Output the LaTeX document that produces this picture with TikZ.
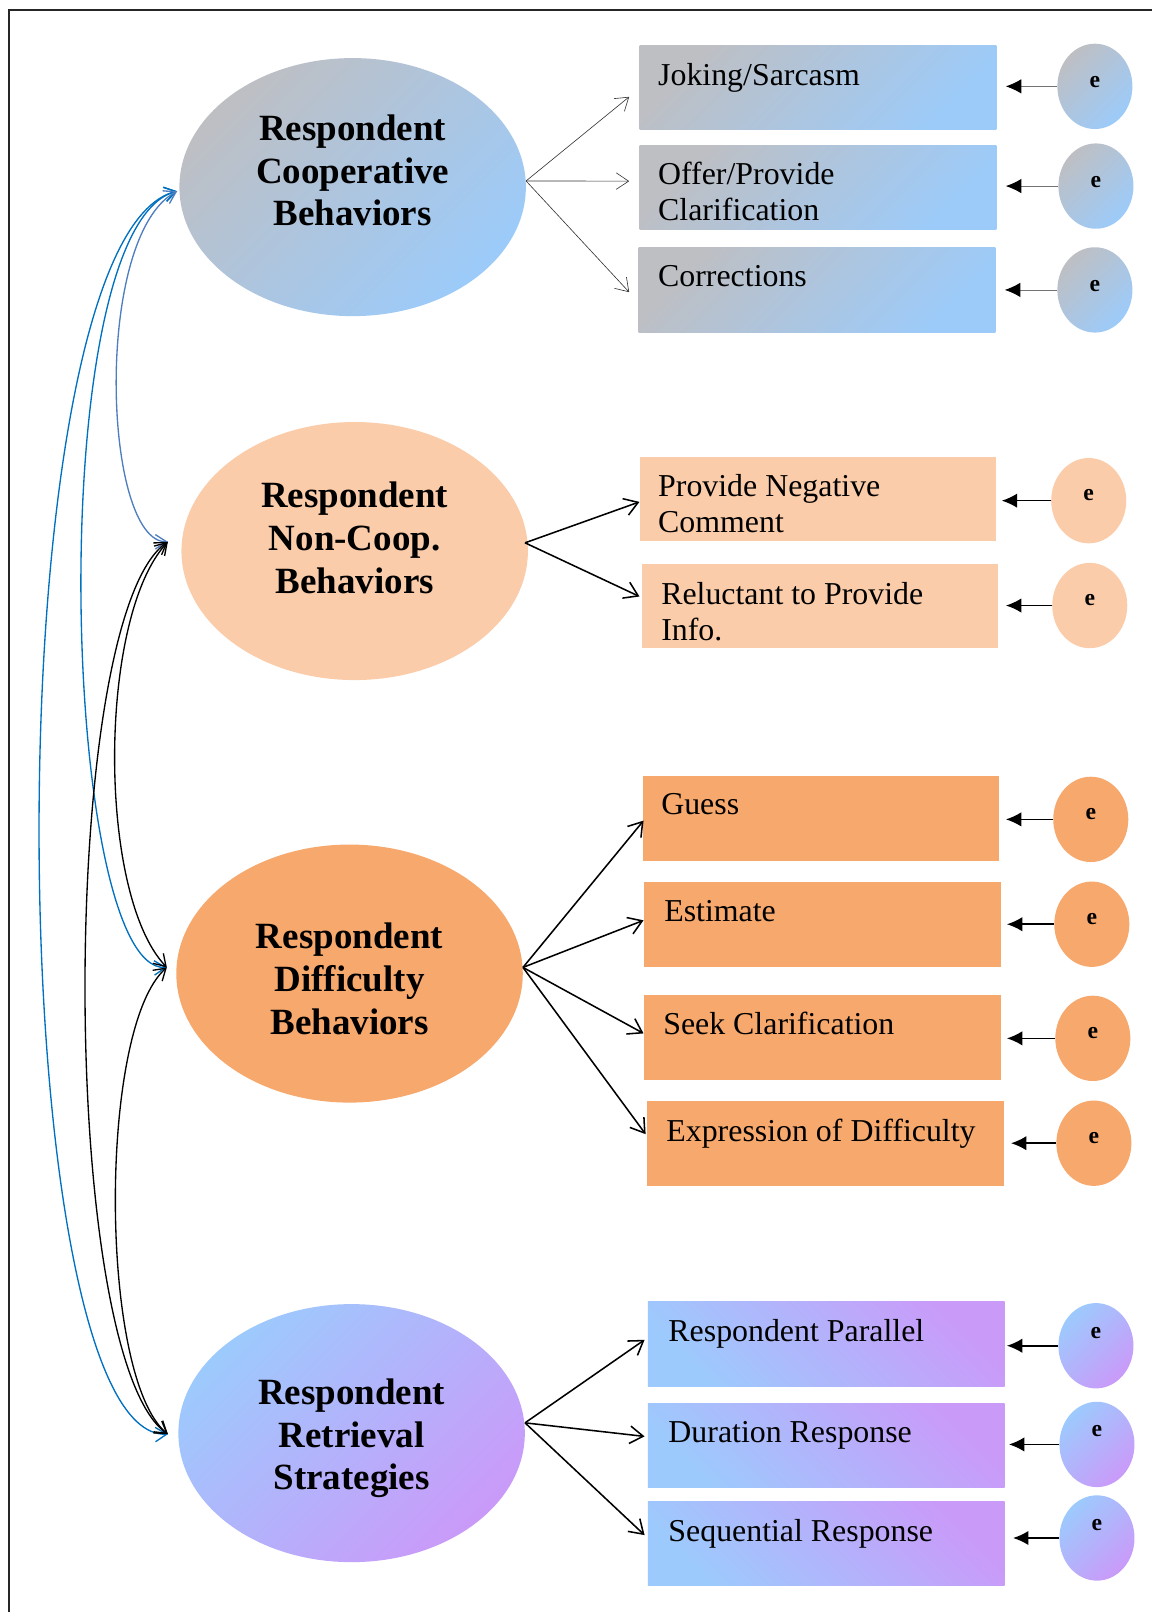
\documentclass[tikz,border=0pt]{standalone}
\usepackage{fontspec}
\setmainfont{Liberation Serif}
\usetikzlibrary{shapes.geometric,arrows.meta}

\definecolor{coopgray}{HTML}{BEBFC3}
\definecolor{coopblue}{HTML}{9CCBFA}
\definecolor{peachfill}{HTML}{FBCCA9}
\definecolor{difffill}{HTML}{F6A86D}
\definecolor{retblue}{HTML}{9DCAFD}
\definecolor{retviolet}{HTML}{CA9AF9}
\definecolor{linkblue}{HTML}{0070C0}
\definecolor{linksteel}{HTML}{4F7EC0}

\begin{document}
\begin{tikzpicture}[x=1pt,y=-1pt,
  latent/.style={ellipse,minimum width=337pt,minimum height=251pt,inner sep=0pt},
  latenttext/.style={font=\fontsize{36}{41.5}\selectfont\bfseries,align=center,inner sep=0pt},
  indicator/.style={rectangle,anchor=north west,minimum width=347pt,minimum height=82pt,inner sep=0pt},
  indtext/.style={font=\fontsize{31}{35.5}\selectfont,align=left,anchor=north west,inner sep=0pt},
  errc/.style={ellipse,minimum width=73pt,minimum height=83pt,inner sep=0pt},
  errtext/.style={font=\fontsize{23}{26}\selectfont\bfseries,inner sep=0pt},
  coopshade/.style={top color=coopgray,bottom color=coopblue,shading angle=45},
  retshade/.style={top color=retblue,bottom color=retviolet,shading angle=45},
  retboxshade/.style={top color=retviolet,bottom color=retblue,shading angle=-45},
  thinpath/.style={draw=black!80,line width=0.6pt,-{Straight Barb[length=12pt,width=16pt]}},
  pathline/.style={draw=black,line width=1.5pt,-{Straight Barb[length=13pt,width=17pt]}},
  thinerr/.style={draw=black!55,line width=0.8pt,-{Latex[length=15pt,width=14pt,black]}},
  errline/.style={draw=black,line width=1.5pt,-{Latex[length=15pt,width=14pt]}},
  covlink/.style={line width=1.3pt,{Straight Barb[length=11pt,width=14pt]}-{Straight Barb[length=11pt,width=14pt]}}
]
\useasboundingbox (0,0) rectangle (1120,1568);

% outer frame
\draw[black!85,line width=2pt] (9,10) rectangle (1140,1590);

% ---------- latent constructs ----------
\node[latent,coopshade] (E1) at (343,182) {};
\node[latent,fill=peachfill] (E2) at (345,536) {};
\node[latent,fill=difffill] (E3) at (340,947) {};
\node[latent,retshade] (E4) at (342,1394) {};

\node[latenttext] (L1) at (343,166) {Respondent\\Cooperative\\Behaviors};
\node[latenttext] (L2) at (345,523) {Respondent\\Non-Coop.\\Behaviors};
\node[latenttext] (L3) at (340,952) {Respondent\\Difficulty\\Behaviors};
\node[latenttext] (L4) at (342,1399) {Respondent\\Retrieval\\Strategies};

% ---------- indicators ----------
\node[indicator,coopshade] (bJ) at (622,44) {};
\node[indicator,coopshade] (bO) at (622,141) {};
\node[indicator,coopshade] (bC) at (621,241) {};
\node[indicator,fill=peachfill] (bN) at (622,444) {};
\node[indicator,fill=peachfill] (bR) at (624,548) {};
\node[indicator,fill=difffill] (bG) at (625,755) {};
\node[indicator,fill=difffill] (bE) at (626,858) {};
\node[indicator,fill=difffill] (bS) at (626,968) {};
\node[indicator,fill=difffill] (bX) at (629,1071) {};
\node[indicator,retboxshade] (bP) at (630,1266) {};
\node[indicator,retboxshade] (bD) at (630,1365) {};
\node[indicator,retboxshade] (bQ) at (630,1460) {};

\node[indtext] (tJ) at ([shift={(18,17)}]bJ.north west) {Joking/Sarcasm};
\node[indtext] (tO) at ([shift={(18,16)}]bO.north west) {Offer/Provide\\Clarification};
\node[indtext] (tC) at ([shift={(19,17)}]bC.north west) {Corrections};
\node[indtext] (tN) at ([shift={(18,17)}]bN.north west) {Provide Negative\\Comment};
\node[indtext] (tR) at ([shift={(19,18)}]bR.north west) {Reluctant to Provide\\Info.};
\node[indtext] (tG) at ([shift={(18,17)}]bG.north west) {Guess};
\node[indtext] (tE) at ([shift={(20,18)}]bE.north west) {Estimate};
\node[indtext] (tS) at ([shift={(19,16)}]bS.north west) {Seek Clarification};
\node[indtext] (tX) at ([shift={(19,17)}]bX.north west) {Expression of Difficulty};
\node[indtext] (tP) at ([shift={(20,17)}]bP.north west) {Respondent Parallel};
\node[indtext] (tD) at ([shift={(20,17)}]bD.north west) {Duration Response};
\node[indtext] (tQ) at ([shift={(20,18)}]bQ.north west) {Sequential Response};

% ---------- error terms ----------
\node[errc,coopshade] (eJ) at (1065,84) {};
\node[errc,coopshade] (eO) at (1066,181) {};
\node[errc,coopshade] (eC) at (1065,282) {};
\node[errc,fill=peachfill] (eN) at (1059,487) {};
\node[errc,fill=peachfill] (eR) at (1060,589) {};
\node[errc,fill=difffill] (eG) at (1061,797) {};
\node[errc,fill=difffill] (eE) at (1062,899) {};
\node[errc,fill=difffill] (eS) at (1063,1010) {};
\node[errc,fill=difffill] (eX) at (1064,1112) {};
\node[errc,retshade] (eP) at (1066,1309) {};
\node[errc,retshade] (eD) at (1067,1405) {};
\node[errc,retshade] (eQ) at (1067,1496) {};

\node[errtext] (xJ) at ([yshift=4pt]eJ.center) {e};
\node[errtext] (xO) at ([yshift=4pt]eO.center) {e};
\node[errtext] (xC) at ([yshift=4pt]eC.center) {e};
\node[errtext] (xN) at ([yshift=5pt]eN.center) {e};
\node[errtext] (xR) at ([yshift=5pt]eR.center) {e};
\node[errtext] (xG) at ([yshift=5pt]eG.center) {e};
\node[errtext] (xE) at ([yshift=5pt]eE.center) {e};
\node[errtext] (xS) at ([yshift=5pt]eS.center) {e};
\node[errtext] (xX) at ([yshift=5pt]eX.center) {e};
\node[errtext] (xP) at ([yshift=12pt]eP.center) {e};
\node[errtext] (xD) at ([yshift=13pt]eD.center) {e};
\node[errtext] (xQ) at ([yshift=13pt]eQ.center) {e};

% ---------- error arrows ----------
\draw[thinerr,shorten >=9pt] (eJ) -- (eJ -| bJ.east);
\draw[thinerr,shorten >=9pt] (eO) -- (eO -| bO.east);
\draw[thinerr,shorten >=9pt] (eC) -- (eC -| bC.east);
\draw[errline,shorten >=5pt] (eN) -- (eN -| bN.east);
\draw[errline,shorten >=7pt] (eR) -- (eR -| bR.east);
\draw[errline,shorten >=6pt] (eG) -- (eG -| bG.east);
\draw[errline,shorten >=6pt] (eE) -- (eE -| bE.east);
\draw[errline,shorten >=6pt] (eS) -- (eS -| bS.east);
\draw[errline,shorten >=7pt] (eX) -- (eX -| bX.east);
\draw[errline,shorten >=2pt] (eP) -- (eP -| bP.east);
\draw[errline,shorten >=4pt] (eD) -- (eD -| bD.east);
\draw[errline,shorten >=8pt] (eQ) -- (eQ -| bQ.east);

% ---------- loadings ----------
\draw[thinpath] ([shift={(0,-6)}]E1.east) -- ([shift={(-10,9)}]bJ.west);
\draw[thinpath] ([shift={(0,-6)}]E1.east) -- ([shift={(-10,-6)}]bO.west);
\draw[thinpath] ([shift={(0,-6)}]E1.east) -- ([shift={(-9,2)}]bC.west);

\draw[pathline] ([shift={(-3,-8)}]E2.east) -- ([shift={(0,3)}]bN.west);
\draw[pathline] ([shift={(-3,-8)}]E2.east) -- ([shift={(-2,-9)}]bR.west);

\draw[pathline] ([shift={(0,-6)}]E3.east) -- ([shift={(1,2)}]bG.west);
\draw[pathline] ([shift={(0,-6)}]E3.east) -- ([shift={(0,-4)}]bE.west);
\draw[pathline] ([shift={(0,-6)}]E3.east) -- ([shift={(0,-4)}]bS.west);
\draw[pathline] ([shift={(0,-6)}]E3.east) -- ([shift={(-1,-9)}]bX.west);

\draw[pathline] ([shift={(0,-10)}]E4.east) -- ([shift={(-3,-4)}]bP.west);
\draw[pathline] ([shift={(0,-10)}]E4.east) -- ([shift={(-3,-9)}]bD.west);
\draw[pathline] ([shift={(0,-10)}]E4.east) -- ([shift={(-3,-8)}]bQ.west);

% ---------- covariances ----------
\draw[covlink,linkblue] ([shift={(-2,4)}]E1.west)
  .. controls +(-182,44) and +(-163,5) .. ([shift={(-10,1)}]E4.west);
\draw[covlink,linkblue] ([shift={(-2,4)}]E1.west)
  .. controls +(-132,34) and +(-103,4) .. ([shift={(-9,-6)}]E3.west);
\draw[covlink,linksteel] ([shift={(-2,4)}]E1.west)
  .. controls +(-82,44) and +(-63,0) .. ([shift={(-13,-9)}]E2.west);
\draw[covlink,black] ([shift={(-13,-9)}]E2.west)
  .. controls +(-68,73) and +(-68,-71) .. ([shift={(-9,-6)}]E3.west);
\draw[covlink,black] ([shift={(-13,-9)}]E2.west)
  .. controls +(-107,73) and +(-107,-75) .. ([shift={(-10,1)}]E4.west);
\draw[covlink,black] ([shift={(-9,-6)}]E3.west)
  .. controls +(-67,59) and +(-67,-55) .. ([shift={(-10,1)}]E4.west);
\end{tikzpicture}
\end{document}
